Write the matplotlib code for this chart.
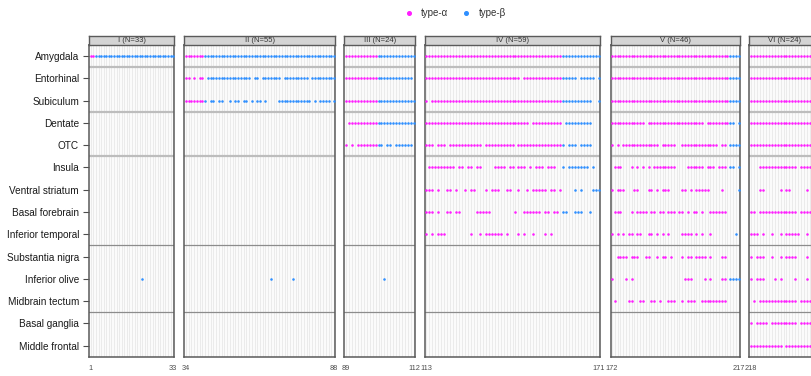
import matplotlib
matplotlib.use("Agg")
import matplotlib.pyplot as plt
from matplotlib.lines import Line2D

plt.rcParams['font.family'] = ['Liberation Sans', 'DejaVu Sans']

regions = ["Amygdala", "Entorhinal", "Subiculum", "Dentate", "OTC", "Insula",
           "Ventral striatum", "Basal forebrain", "Inferior temporal",
           "Substantia nigra", "Inferior olive", "Midbrain tectum",
           "Basal ganglia", "Middle frontal"]
stage_names = ["I", "II", "III", "IV", "V", "VI"]
stage_sizes = [33, 55, 24, 59, 46, 24]
group_breaks = [0.5, 2.5, 4.5, 8.5, 11.5]
series_labels = ["type-α", "type-β"]

# one string per region, one character per case: 'a' = type-α, 'b' = type-β, '.' = none
stage_I = [
    "aabbbbbbbb" "bbbbbbbbbb" "bbbbbbbbbb" "bbb",
    "", "", "", "", "", "", "", "", "",
    ".........." ".........." "b",
    "", "", "",
]
stage_II = [
    "aaaaaaabbb" "bbbbbbbbbb" "bbbbbbbbbb" "bbbbbbbbbb" "bbbbbbbbbb" "bbbbb",
    "aa.a.aa.bb" "bbbbbbbbbb" "bbbb.bb.bb" "bbbbb.bbbb" "bbbbb.bbbb" "bbbbb",
    "aaaaaaab.b" "b.bb..b.bb" ".bb.b.bb.b" "....bbbbbb" "bbbbbb.b.b" "bbb.b",
    "", "", "", "", "", "", "",
    ".........." ".........." ".........." ".b.......b",
    "", "", "",
]
stage_III = [
    "aaaaaaaaaa" "abbbbbbbbb" "bbbb",
    "aaaaaaaaaa" "abbbbbbbbb" "bbb.",
    "aaaaaaaaaa" "abbbbbbbbb" "bbbb",
    ".aaaaaaaaa" "abbbbbbbbb" "bbbb",
    "a.a.aaaaaa" "abb.bb.bbb" "bbb.",
    "", "", "", "", "",
    ".........." "...b",
    "", "", "",
]
stage_IV = [
    "aaaaaaaaaa" "aaaaaaaaaa" "aaaaaaaaaa" "aaaaaaaaaa" "aaaaaabbbb" "bbbbbbbbb",
    "aaaaaaaaaa" "aaaaaaaaaa" "aaaaaaaaaa" "aa.aaaaaaa" "aaaaaabbbb" "b.bbbbb.b",
    "a.aaaaaaaa" "aaaaaaaaaa" "aaaaaaaaaa" "aaaaaaaaaa" "aaaaaabbbb" "bbbbbb..b",
    "aaaaaaaaaa" "aaaaaaaaaa" "aaaaaaaaaa" "aaaaa.aaaa" "aaaaaa.bbb" "bbbbbb...",
    "aaa.aaa.aa" "aaaaaaaaa." "aaaaaaaaaa" ".aaaaaaaaa" "aaaaaab.bb" "b.bbbb...",
    ".aaaaaaaaa" ".aa.aa.aa." "...aaaa.aa" ".aaa.a.aaa" ".aaa..b.bb" "bbbbb.b..",
    "aaa.a..aa." "a..a.aa..." "a.aaa..aa." ".a..a.aaaa" "a.aa.a...." "b.b...bbb",
    "aaa.a..aa." "aa.....aaa" "aa........" "a..aaaaaa." "aa.aa.bb.." "bbb..b...",
    "a.a.aaa..." ".....a..a." "aaaaaa.a.." ".a.a..a..." "a.a",
    "", "", "", "", "",
]
stage_V = [
    "aaaaaaaaaa" "aaaaaaaaaa" "aaaaaaaaaa" "aaaaaaaaaa" "aabbbb",
    "aaaaaaaaaa" "aaaaaaaaaa" "aaaaaaaaaa" "aaaaaaaaaa" "aabbbb",
    "aaaaaaaaaa" "aaaaaaaaaa" "aaaaaaaaaa" "aaaaaaaaaa" "aabbbb",
    "aaaaaaaaaa" "aa.aaaaaaa" "aaaaaaaaaa" "aaa.aaaaaa" "aabb.b",
    "a.a.aaaaaa" "aaaaaaa.aa" "aaa..aaaaa" "aaaaaaaa.a" "a.bbbb",
    ".aaa...a.a" ".a.a.aaaaa" "aaa....aaa" "aaa.aaa.aa" "a.bb.b",
    "a.aaa...aa" "...aa.a.aa" "a....aa.a." "aaaaa....a" ".....b",
    ".aaa...a.a" "aaa.aa.aa." "aaa.aa.a.a" "a.a..aaaaa" "a",
    "a.a.a.aa.a" "a..aa.a.a." "a....aaaa." "a.a..a...." "....b",
    "..aaaa.aaa" "..aa..a.aa" ".a...a.aa." "aaaa.a...a" "a",
    "a....a.a.." ".........." "......aaa." "...a.a...a" "a.bbbb",
    ".a....aa.." "aa..aa.a.." "aaa..a.aaa" "..aaaaaaaa" "a",
    "", "",
]
stage_VI = [
    "aaaaaaaaaa" "aaaaaaaaaa" "aaaa",
    "aaaaaaaaaa" "aaaaaaaaaa" "aaaa",
    "aaaaaaaaaa" "aaaaaaaaaa" "aaaa",
    "aaaaaaaaaa" "aaaaaaaaaa" "aaaa",
    "aaaaaaaaaa" "aaaaaaaaaa" "aaaa",
    "...aaaaaaa" "aaaaaa.aaa" "aaaa",
    "...aa....." "a.aa.....a",
    "aa.aaaaaaa" "aaaaaa.aaa" "aaaa",
    "aaa.a..a.." "a.aaaaa..a",
    "a.aaa..a.." "a.aaaa...a",
    "a.aaa...a." "a....a...a",
    ".a.aaaaaaa" "aaaaaa.aaa" "aaaa",
    "a.aaaa.aaa" "aaaaaa.aaa" "aaaa",
    "aaaaaaaaaa" "a.aaaaaaaa" "aaaa",
]
stages = [stage_I, stage_II, stage_III, stage_IV, stage_V, stage_VI]

MAG = "#FF1EFF"
BLUE = "#2E8FFF"

W, H = 812, 376
fig = plt.figure(figsize=(W / 100, H / 100), dpi=100)
panel_px = [(89.5, 174.5), (184.5, 335.5), (344.5, 415.5),
            (424.5, 600.5), (610.5, 740.0), (749.5, 820.5)]
body_top, body_bot, strip_top = 44.8, 356.8, 36.3

start = 1
for k, (name, n, rows) in enumerate(zip(stage_names, stage_sizes, stages)):
    assert len(rows) == len(regions), (name, len(rows))
    lo, hi = start, start + n - 1
    x0, x1 = panel_px[k]
    ax = fig.add_axes([x0 / W, 1 - body_bot / H, (x1 - x0) / W, (body_bot - body_top) / H])
    ax.set_xlim(lo - 0.5, hi + 0.5)
    ax.set_ylim(len(regions) - 0.5, -0.5)
    ax.set_facecolor("#FBFBFB")
    for xv in range(lo, hi + 1):
        ax.axvline(xv, color="#E2E2E2", lw=0.45, zorder=0)
    for j, yb in enumerate(group_breaks):
        if j < 3:
            ax.axhline(yb, color="#BDBDBD", lw=1.6, zorder=1)
        else:
            ax.axhline(yb, color="#8C8C8C", lw=0.9, zorder=1)
    for cat, col in (("a", MAG), ("b", BLUE)):
        xs, ys = [], []
        for r, s in enumerate(rows):
            assert len(s) <= n, (name, regions[r], len(s))
            for i, ch in enumerate(s):
                if ch == cat:
                    xs.append(lo + i)
                    ys.append(r)
        ax.scatter(xs, ys, s=3.4, color=col, linewidths=0, zorder=3)
    for sp in ax.spines.values():
        sp.set_color("#5A5A5A")
        sp.set_linewidth(1.1)
    ax.set_xticks([lo, hi])
    ax.set_xticklabels([str(lo), str(hi)])
    ax.tick_params(axis="x", length=0, labelsize=5.3, colors="#4D4D4D", pad=6)
    if k == 0:
        ax.set_yticks(range(len(regions)))
        ax.set_yticklabels(regions)
        ax.tick_params(axis="y", length=4, width=0.8, color="#4D4D4D",
                       labelsize=7.2, labelcolor="#1A1A1A", pad=3.5)
    else:
        ax.set_yticks([])
    sx = fig.add_axes([x0 / W, 1 - body_top / H, (x1 - x0) / W, (body_top - strip_top) / H])
    sx.set_facecolor("#D4D4D4")
    sx.set_xticks([]); sx.set_yticks([])
    for sp in sx.spines.values():
        sp.set_color("#5A5A5A")
        sp.set_linewidth(1.0)
    sx.text(0.5, 0.45, f"{name} (N={n})", ha="center", va="center",
            fontsize=5.5, color="#333333", transform=sx.transAxes)
    start = hi + 1

handles = [Line2D([], [], marker="o", ls="", color=MAG, ms=2.6, label=series_labels[0]),
           Line2D([], [], marker="o", ls="", color=BLUE, ms=2.6, label=series_labels[1])]
fig.legend(handles=handles, loc="center", bbox_to_anchor=(455 / W, 1 - 13 / H),
           ncol=2, frameon=False, fontsize=7, handlelength=1.0, handletextpad=0.8,
           columnspacing=1.35, labelcolor="#333333")

fig.savefig("out.png", dpi=100)
